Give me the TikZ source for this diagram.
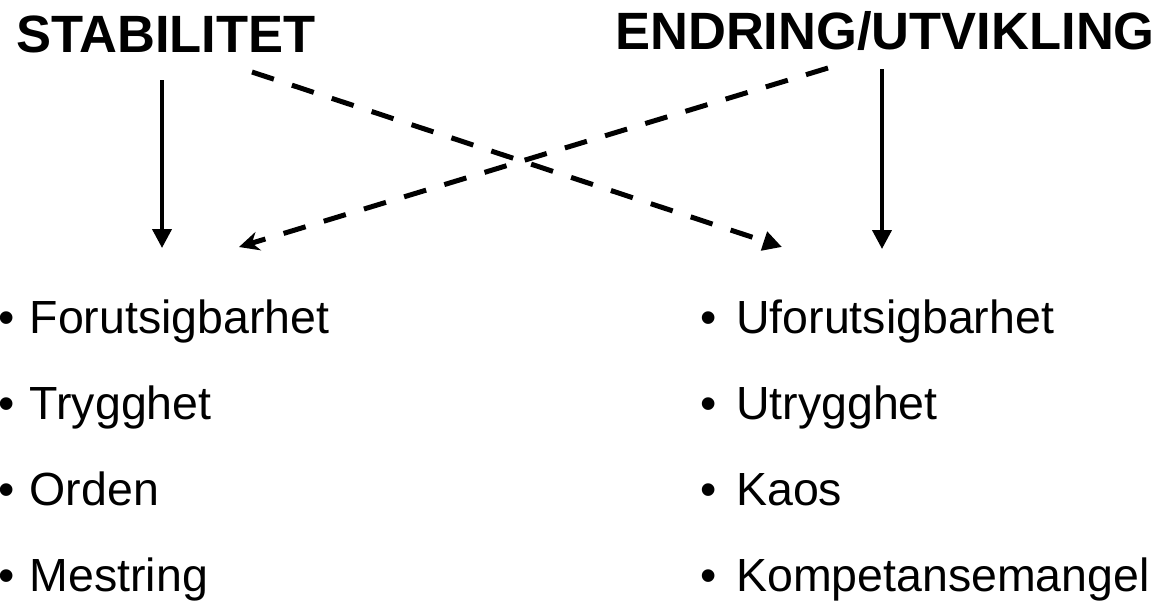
\documentclass[tikz,border=0pt]{standalone}
\usepackage{fontspec}
\setmainfont{Liberation Sans}
\usetikzlibrary{arrows.meta}

\newcommand{\punkt}[2][36pt]{\makebox[#1][l]{\textbullet}#2}

\begin{document}
\begin{tikzpicture}[x=1pt,y=-1pt,
	tittel/.style={anchor=base west,inner sep=0pt,font=\fontsize{52.5}{60}\selectfont\bfseries},
	punkt/.style={anchor=base west,inner sep=0pt,font=\fontsize{46.5}{54}\selectfont},
	pil/.style={line width=4pt,-{Triangle[length=19pt,width=19pt]}},
	stiplet/.style={line width=5pt,dash pattern=on 23pt off 19pt}]
	\useasboundingbox (0,0) rectangle (1170,600);

	\node[tittel] (stab) at (16, 52)     {STABILITET};
	\node[tittel] (endr) at (615, 49)    {ENDRING/UTVIKLING};

	\node[punkt] (f) at (-2, 333)     {\punkt[31.5pt]{Forutsigbarhet}};
	\node[punkt] (t) at (-2, 419)     {\punkt[31.5pt]{Trygghet}};
	\node[punkt] (o) at (-2, 505)     {\punkt[31.5pt]{Orden}};
	\node[punkt] (m) at (-2, 591)     {\punkt[31.5pt]{Mestring}};
	\node[punkt] (u) at (700, 333)   {\punkt{Uforutsigbarhet}};
	\node[punkt] (ut) at (700, 419)  {\punkt{Utrygghet}};
	\node[punkt] (k) at (700, 505)   {\punkt{Kaos}};
	\node[punkt] (km) at (700, 591)  {\punkt{Kompetansemangel}};

	\coordinate (s1) at (162, 80);
	\coordinate (s2) at (162, 248);
	\coordinate (e1) at (882, 69);
	\coordinate (e2) at (882, 249);
	\coordinate (ds) at (252, 72);
	\coordinate (dv) at (782, 247);
	\coordinate (de) at (828, 68);
	\coordinate (dh) at (239, 247);

	\path[pil] (s1) edge (s2);
	\path[pil] (e1) edge (e2);
	\path[stiplet,-{Triangle[length=19pt,width=19pt]}] (ds) edge (dv);
	\path[stiplet,-{Stealth[length=20pt,width=19pt]}] (de) edge (dh);
\end{tikzpicture}
\end{document}
